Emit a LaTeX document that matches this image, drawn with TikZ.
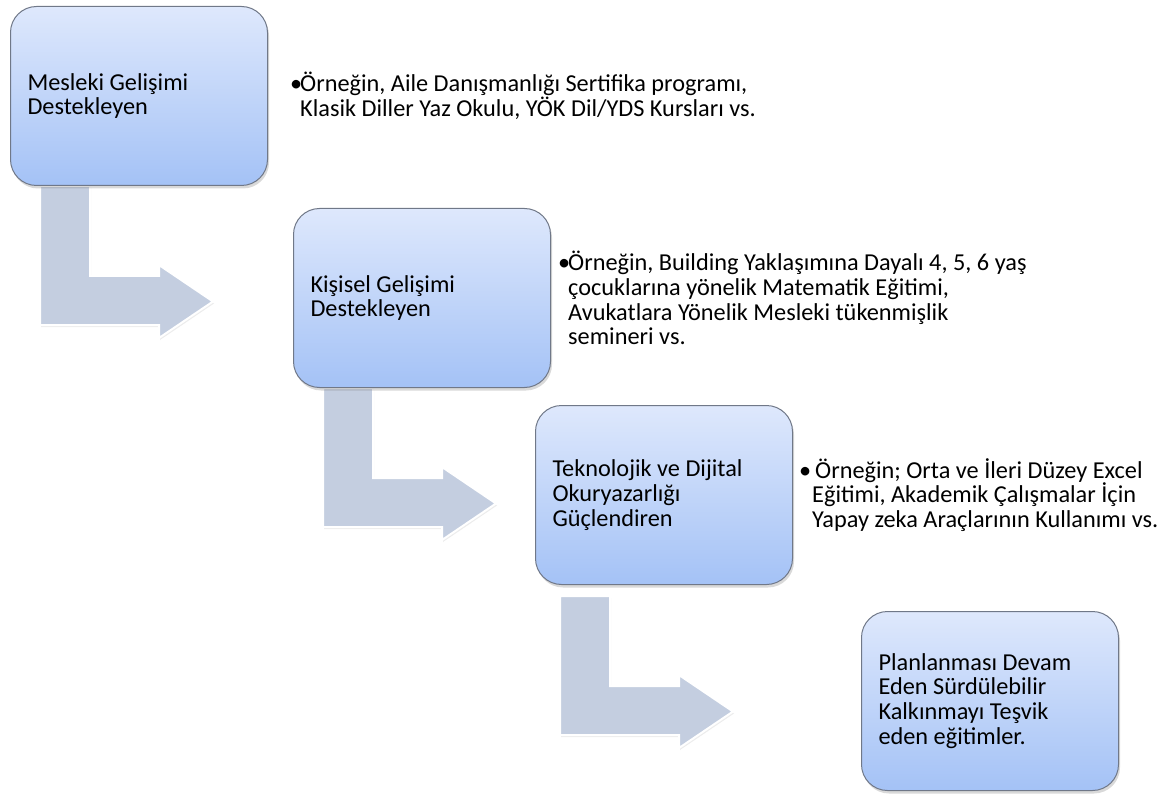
\documentclass[tikz,border=0pt]{standalone}
\usepackage{fontspec}
\setmainfont{Carlito}
\usetikzlibrary{positioning, shadows, backgrounds}
\definecolor{boxtop}{HTML}{DEE8FC}
\definecolor{boxbottom}{HTML}{A4C2F6}
\definecolor{boxline}{HTML}{707888}
\definecolor{arrowfill}{HTML}{C4CEE0}
\tikzset{
	stage/.append style={
		draw=boxline,
		line width=1pt,
		rounded corners=26pt,
		top color=boxtop,
		bottom color=boxbottom,
		align=flush left,
		text width=223pt,
		minimum height=179pt,
		inner xsep=17pt,
		anchor=north west,
		drop shadow={shadow xshift=1.5pt, shadow yshift=-3pt, opacity=0.3},
	},
	example/.append style={
		align=left,
		inner sep=0pt,
		anchor=west,
	},
	bentarrow/.append style={
		fill=arrowfill,
		draw=white,
		line width=2pt,
		drop shadow={shadow xshift=1pt, shadow yshift=-2pt, opacity=0.15},
	},
}

\begin{document}
\begin{tikzpicture}[x=1pt, y=-1pt, font=\fontsize{24.3}{24.8}\selectfont]
		\useasboundingbox (0,0) rectangle (1164,794);

		\node(box1)[stage] at (10,6){Mesleki Gelişimi\\Destekleyen};
		\node(box2)[stage] at (293,208){Kişisel Gelişimi\\Destekleyen};
		\node(box3)[stage] at (535,405){Teknolojik ve Dijital\\Okuryazarlığı\\Güçlendiren};
		\node(box4)[stage] at (861,611){Planlanması Devam\\Eden Sürdülebilir\\Kalkınmayı Teşvik\\eden eğitimler.};

		\node(ex1)[example, right=32pt of box1]{\llap{•\kern-2pt}Örneğin, Aile Danışmanlığı Sertifika programı,\\Klasik Diller Yaz Okulu, YÖK Dil/YDS Kursları vs.};
		\node(ex2)[example, right=17pt of box2]{\llap{•\kern-2pt}Örneğin, Building Yaklaşımına Dayalı 4, 5, 6 yaş\\çocuklarına yönelik Matematik Eğitimi,\\Avukatlara Yönelik Mesleki tükenmişlik\\semineri vs.};
		\node(ex3)[example, right=19pt of box3]{\llap{•\kern1pt}\hspace*{3pt}Örneğin; Orta ve İleri Düzey Excel\\Eğitimi, Akademik Çalışmalar İçin\\Yapay zeka Araçlarının Kullanımı vs.};

		% bent arrows from each box down to the next one
		\begin{scope}[on background layer]
		\foreach \from/\dx/\dy in {box1/30/0, box2/30/0, box3/25/11}
			\draw[bentarrow, shift={(\from.south west)}, shift={(\dx,\dy)}]
				(0,0) -- (50,0) -- (50,90) -- (119,90) -- (119,79) -- (173,115.5)
				-- (119,152) -- (119,139) -- (0,139) -- cycle;
		\end{scope}
\end{tikzpicture}
\end{document}
